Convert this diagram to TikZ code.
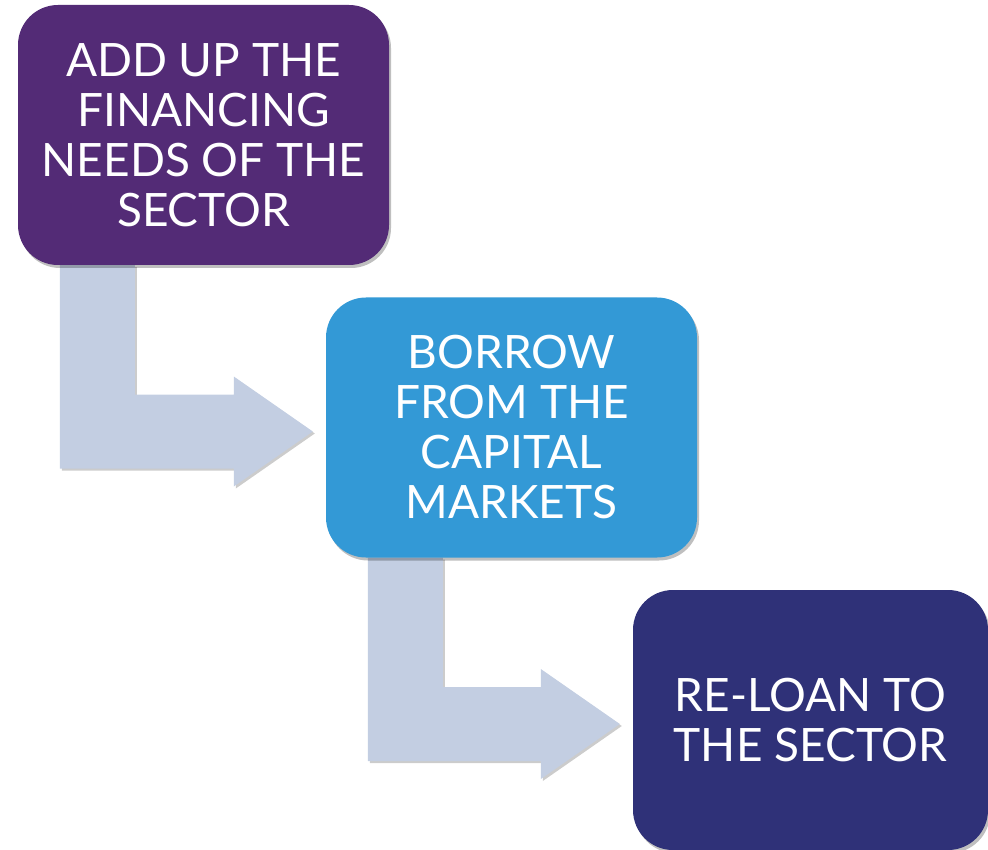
\documentclass[tikz,border=0pt]{standalone}
\usepackage{fontspec}
\setmainfont{Lato}
\usetikzlibrary{calc,shadows,backgrounds}

\definecolor{stepone}{HTML}{532B76}
\definecolor{steptwo}{HTML}{3399D6}
\definecolor{stepthree}{HTML}{2F3178}
\definecolor{bendfill}{HTML}{C3CEE2}

\tikzset{
  stepbox/.style={rounded corners=40pt, minimum width=371pt, minimum height=260pt,
    align=center, text=white, inner sep=0pt,
    font=\fontsize{46}{50}\selectfont,
    drop shadow={shadow xshift=2pt, shadow yshift=-3pt, opacity=0.25, fill=black}},
  bendarrow/.style={fill=bendfill,
    drop shadow={shadow xshift=2pt, shadow yshift=-2pt, opacity=0.2, fill=black}}
}

% bent arrow from below box #1 to the left side of box #2
\newcommand{\bentarrow}[2]{%
  \path let \p1=(#1.south west), \p2=(#2.west) in
    [bendarrow] (\x1+42pt,\y1) -- (\x1+117pt,\y1) -- (\x1+117pt,\y2+33pt)
    -- (\x2-92pt,\y2+33pt) -- (\x2-92pt,\y2+51pt) -- (\x2-13pt,\y2-4pt)
    -- (\x2-92pt,\y2-59pt) -- (\x2-92pt,\y2-41pt) -- (\x1+42pt,\y2-41pt) -- cycle;}

\begin{document}
\begin{tikzpicture}[x=1pt,y=-1pt]

\useasboundingbox (0,0) rectangle (988,850);

\node[stepbox, fill=stepone] (add) at (203.5,135) {ADD UP THE\\FINANCING\\NEEDS OF THE\\SECTOR};
\node[stepbox, fill=steptwo] (borrow) at (511.5,427.5) {BORROW\\FROM THE\\CAPITAL\\MARKETS};
\node[stepbox, fill=stepthree, minimum width=355pt] (reloan) at (810.5,720) {RE-LOAN TO\\THE SECTOR};

\begin{scope}[on background layer]
\bentarrow{add}{borrow}
\bentarrow{borrow}{reloan}
\end{scope}

\end{tikzpicture}
\end{document}
